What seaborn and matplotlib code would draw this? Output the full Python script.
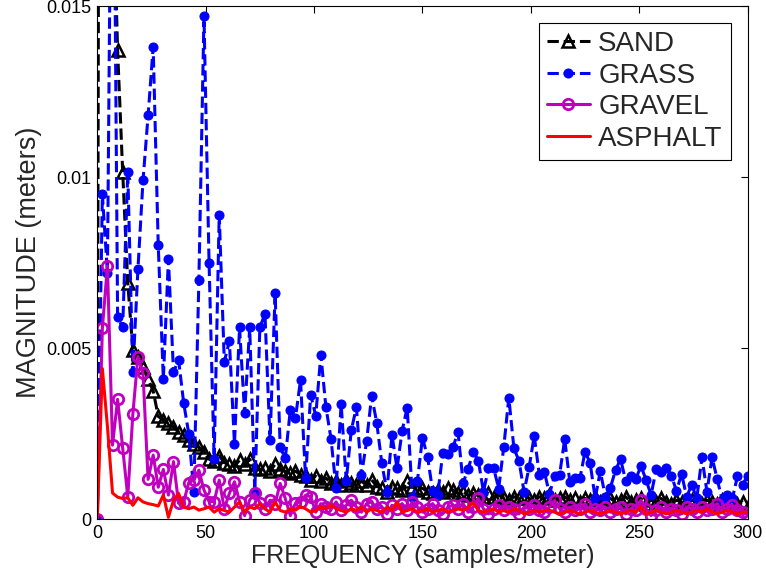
import numpy as np
import matplotlib
matplotlib.use("Agg")
import matplotlib.pyplot as plt
import seaborn as sns

# frequency bins (samples/meter), 129 bins from 0 to 300
freq = np.linspace(0, 300, 129)

# magnitudes, in millimeters (x 1e-3 m)
sand_mm = [
    0, 70, 35, 19, 13.7, 10.15, 6.9, 4.95, 4.75, 4.45,
    4.1, 3.75, 3.0, 2.9, 2.8, 2.7, 2.55, 2.45, 2.3, 2.2,
    2.1, 1.95, 1.75, 1.7, 1.85, 1.65, 1.6, 1.55, 1.72, 1.6,
    1.75, 1.5, 1.45, 1.5, 1.4, 1.6, 1.45, 1.4, 1.35, 1.4,
    1.3, 1.25, 1.15, 1.25, 1.1, 1.2, 1.05, 1.1, 1.0, 1.15,
    1.05, 1.0, 1.1, 1.0, 1.15, 0.95, 0.9, 0.8, 0.95, 0.9,
    0.85, 1.1, 0.95, 0.85, 0.9, 0.8, 0.75, 0.85, 0.8, 0.9,
    0.85, 0.75, 0.8, 0.7, 0.75, 0.7, 0.65, 0.75, 0.65, 0.7,
    0.6, 0.55, 0.65, 0.6, 0.7, 0.6, 0.55, 0.65, 0.6, 0.7,
    0.55, 0.6, 0.65, 0.55, 0.6, 0.5, 0.6, 0.55, 0.65, 0.5,
    0.55, 0.6, 0.5, 0.55, 0.65, 0.5, 0.55, 0.6, 0.45, 0.55,
    0.5, 0.6, 0.5, 0.45, 0.55, 0.5, 0.45, 0.55, 0.5, 0.45,
    0.55, 0.5, 0.45, 0.55, 0.45, 0.5, 0.45, 0.5, 0.36,
]

grass_mm = [
    0, 9.5, 7.2, 25, 5.9, 5.6, 10.15, 4.3, 7.3, 9.9,
    11.8, 13.8, 8.0, 4.1, 7.6, 4.3, 4.65, 3.4, 2.5, 0.8,
    7.0, 14.7, 7.5, 1.75, 8.9, 4.6, 5.2, 2.2, 5.6, 3.1,
    5.6, 0.8, 5.6, 6.0, 2.3, 6.6, 2.1, 1.77, 3.2, 2.95,
    4.06, 1.2, 3.64, 3.02, 4.8, 3.27, 2.35, 0.9, 3.36, 1.12,
    2.6, 3.27, 1.28, 2.27, 3.6, 2.82, 1.63, 0.8, 2.46, 1.48,
    2.58, 3.26, 0.65, 1.1, 2.38, 1.82, 0.83, 0.7, 1.93, 1.91,
    2.1, 2.54, 1.06, 1.47, 1.96, 1.71, 0.8, 1.48, 1.5, 0.89,
    2.1, 3.55, 2.07, 1.7, 0.8, 1.52, 2.43, 1.3, 1.38, 0.73,
    1.26, 1.3, 2.34, 1.09, 1.19, 1.19, 1.97, 1.64, 0.6, 1.4,
    0.65, 0.92, 1.43, 1.75, 1.12, 1.27, 1.17, 1.55, 1.15, 0.7,
    1.45, 1.38, 1.48, 1.27, 0.82, 1.32, 0.65, 1.0, 0.6, 1.8,
    0.8, 1.8, 1.17, 0.55, 0.7, 0.6, 1.25, 1.0, 1.27,
]

gravel_mm = [
    0, 5.58, 7.4, 2.16, 3.5, 2.07, 0.65, 3.07, 4.75, 4.26,
    1.16, 1.87, 0.93, 1.45, 0.7, 1.68, 0.46, 0.5, 1.06, 1.14,
    1.43, 0.85, 0.51, 0.51, 1.14, 0.3, 0.75, 1.09, 0.51, 0.1,
    0.56, 0.75, 0.48, 0.3, 0.55, 0.45, 1.04, 0.6, 0.1, 0.46,
    0.5, 0.7, 0.65, 0.2, 0.45, 0.35, 0.3, 0.5, 0.25, 0.4,
    0.55, 0.35, 0.2, 0.45, 0.5, 0.3, 0.35, 0.15, 0.4, 0.3,
    0.45, 0.25, 0.5, 0.35, 0.2, 0.3, 0.45, 0.25, 0.15, 0.35,
    0.4, 0.3, 0.45, 0.2, 0.35, 0.6, 0.3, 0.15, 0.3, 0.4,
    0.25, 0.35, 0.3, 0.15, 0.35, 0.3, 0.4, 0.25, 0.2, 0.35,
    0.55, 0.3, 0.2, 0.35, 0.25, 0.3, 0.45, 0.2, 0.3, 0.25,
    0.35, 0.2, 0.3, 0.35, 0.15, 0.3, 0.25, 0.55, 0.3, 0.1,
    0.25, 0.35, 0.2, 0.3, 0.25, 0.15, 0.35, 0.3, 0.2, 0.35,
    0.25, 0.3, 0.45, 0.2, 0.3, 0.4, 0.25, 0.2, 0.12,
]

asphalt_mm = [
    0, 4.4, 2.7, 0.76, 0.64, 0.6, 0.62, 0.4, 0.62, 0.5,
    0.45, 0.42, 0.38, 0.7, 0.05, 0.55, 0.75, 0.35, 0.3, 0.35,
    0.26, 0.3, 0.35, 0.2, 0.3, 0.25, 0.2, 0.35, 0.5, 0.2,
    0.35, 0.3, 0.45, 0.3, 0.2, 0.5, 0.25, 0.2, 0.3, 0.26,
    0.36, 0.3, 0.2, 0.25, 0.35, 0.3, 0.41, 0.3, 0.25, 0.2,
    0.3, 0.25, 0.35, 0.2, 0.3, 0.25, 0.2, 0.35, 0.25, 0.5,
    0.2, 0.25, 0.3, 0.2, 0.25, 0.3, 0.2, 0.25, 0.3, 0.2,
    0.25, 0.3, 0.25, 0.35, 0.48, 0.25, 0.2, 0.25, 0.3, 0.2,
    0.25, 0.2, 0.3, 0.25, 0.15, 0.2, 0.25, 0.2, 0.25, 0.26,
    0.2, 0.15, 0.2, 0.25, 0.2, 0.15, 0.2, 0.25, 0.2, 0.15,
    0.2, 0.25, 0.2, 0.15, 0.2, 0.25, 0.2, 0.36, 0.15, 0.2,
    0.25, 0.2, 0.15, 0.2, 0.25, 0.2, 0.15, 0.2, 0.25, 0.2,
    0.3, 0.2, 0.15, 0.2, 0.25, 0.2, 0.15, 0.2, 0.2,
]

xticks = [0, 50, 100, 150, 200, 250, 300]
yticks = [0, 0.005, 0.01, 0.015]
ytick_labels = ["0", "0.005", "0.01", "0.015"]

sns.set_style("white")
plt.rcParams["font.family"] = ["Liberation Sans", "DejaVu Sans"]

fig = plt.figure(figsize=(7.66, 5.79), dpi=100)
ax = fig.add_axes([0.127, 0.1036, 0.849, 0.886])

magenta = "#BF00BF"
sns.lineplot(x=freq, y=np.array(sand_mm) * 1e-3, ax=ax, color="black", linestyle="--",
             marker="^", markersize=8.5, markerfacecolor="none", markeredgecolor="black",
             markeredgewidth=1.8, linewidth=2.2, label="SAND", sort=False)
sns.lineplot(x=freq, y=np.array(grass_mm) * 1e-3, ax=ax, color="blue", linestyle="--",
             marker="o", markersize=6.5, markerfacecolor="blue", markeredgecolor="blue",
             linewidth=2.2, label="GRASS", sort=False)
sns.lineplot(x=freq, y=np.array(gravel_mm) * 1e-3, ax=ax, color=magenta, linestyle="-",
             marker="o", markersize=7.5, markerfacecolor="none", markeredgecolor=magenta,
             markeredgewidth=2.0, linewidth=2.2, label="GRAVEL", sort=False)
sns.lineplot(x=freq, y=np.array(asphalt_mm) * 1e-3, ax=ax, color="red", linestyle="-",
             linewidth=2.2, label="ASPHALT", sort=False)

ax.set_xlim(0, 300)
ax.set_ylim(0, 0.015)
ax.set_xticks(xticks)
ax.set_xticklabels([str(t) for t in xticks])
ax.set_yticks(yticks)
ax.set_yticklabels(ytick_labels)
ax.tick_params(direction="in", length=5, width=0.8, top=True, right=True,
               labelsize=13, colors="black", pad=4)
for s in ax.spines.values():
    s.set_color("black")
    s.set_linewidth(0.8)

ax.set_xlabel("FREQUENCY (samples/meter)", fontsize=18, labelpad=2)
ax.set_ylabel("MAGNITUDE (meters)", fontsize=19.5, labelpad=3)

leg = ax.legend(loc="upper right", fontsize=20, frameon=True, fancybox=False,
                edgecolor="black", framealpha=1, handlelength=1.55,
                labelspacing=0.2, borderpad=0.3, handletextpad=0.3,
                borderaxespad=0.6)
leg.get_frame().set_linewidth(0.8)

fig.savefig("out.png", dpi=100)
